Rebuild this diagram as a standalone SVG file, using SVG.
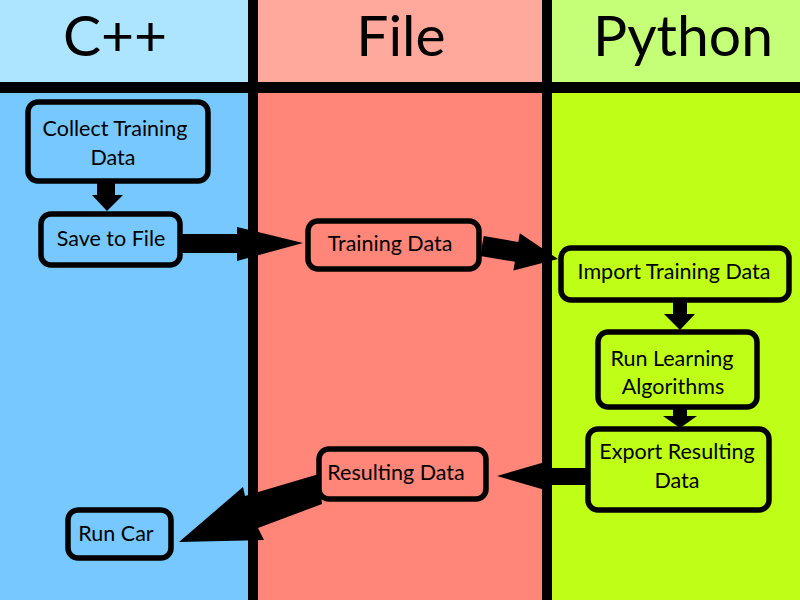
<svg xmlns="http://www.w3.org/2000/svg" width="800" height="600" viewBox="0 0 800 600">
<style>
.node{stroke:#000;stroke-width:5.5;}
.cpp{fill:#76c8fe}.file{fill:#ff8679}.py{fill:#bfff17}
.t{font-family:Lato,"Open Sans",sans-serif;font-size:21.5px;fill:#000;text-anchor:middle}
.h{font-family:Lato,"Open Sans",sans-serif;font-size:57px;fill:#000;text-anchor:middle}
.arrow{fill:#000}
</style>
<g id="lanes">
<rect x="0" y="0" width="253" height="87" fill="#ade5ff"/>
<rect x="0" y="87" width="253" height="513" fill="#76c8fe"/>
<rect x="253" y="0" width="294" height="87" fill="#ffa89b"/>
<rect x="253" y="87" width="294" height="513" fill="#ff8679"/>
<rect x="547" y="0" width="253" height="87" fill="#c5fe77"/>
<rect x="547" y="87" width="253" height="513" fill="#bfff17"/>
<rect x="0" y="82" width="800" height="11" fill="#000"/>
<rect x="248" y="0" width="10" height="600" fill="#000"/>
<rect x="542" y="0" width="10" height="600" fill="#000"/>
<text class="h" x="115" y="56">C++</text>
<text class="h" x="401" y="56">File</text>
<text class="h" x="683" y="56">Python</text>
</g>
<g id="connectors">
<polygon class="arrow" points="97,182 115,182 115,195 123,195 107,211 92,195 97,195"/>
<polygon class="arrow" points="182,234 237,234 237,227 303,243 237,261 237,253 182,253"/>
<polygon class="arrow" points="483.7,236.1 518.3,242 519.8,233.2 558,259 513.4,270.6 514.9,261.8 480.3,255.9"/>
<polygon class="arrow" points="673,301 687,301 687,314 695,314 680,330 664,314 673,314"/>
<polygon class="arrow" points="673,408 687,408 687,416 697,416 680,428 663,416 673,416"/>
<polygon class="arrow" points="587,468 545,468 545,462 497,476 545,490 545,485 587,485"/>
<polygon class="arrow" points="319,474 245,496 243,487 179,542 264,540 258,528 322,504"/>
</g>
<g id="collect"><rect class="node cpp" x="28" y="102" width="180" height="79" rx="10"/><text class="t" x="115" y="136">Collect Training</text><text class="t" x="113" y="165">Data</text></g>
<g id="save"><rect class="node cpp" x="41" y="214" width="139" height="51" rx="10"/><text class="t" x="111" y="246">Save to File</text></g>
<g id="training"><rect class="node file" x="308" y="221" width="171" height="48" rx="10"/><text class="t" x="390" y="251">Training Data</text></g>
<g id="import"><rect class="node py" x="561" y="248" width="228" height="52" rx="10"/><text class="t" x="674" y="279">Import Training Data</text></g>
<g id="learn"><rect class="node py" x="598" y="332" width="159" height="75" rx="10"/><text class="t" x="672" y="366">Run Learning</text><text class="t" x="673" y="394">Algorithms</text></g>
<g id="export"><rect class="node py" x="588" y="429" width="181" height="81" rx="10"/><text class="t" x="677" y="459">Export Resulting</text><text class="t" x="677" y="488">Data</text></g>
<g id="resulting"><rect class="node file" x="319" y="449" width="167" height="50" rx="10"/><text class="t" x="396" y="480">Resulting Data</text></g>
<g id="runcar"><rect class="node cpp" x="68" y="510" width="103" height="48" rx="10"/><text class="t" x="116" y="541">Run Car</text></g>
</svg>
